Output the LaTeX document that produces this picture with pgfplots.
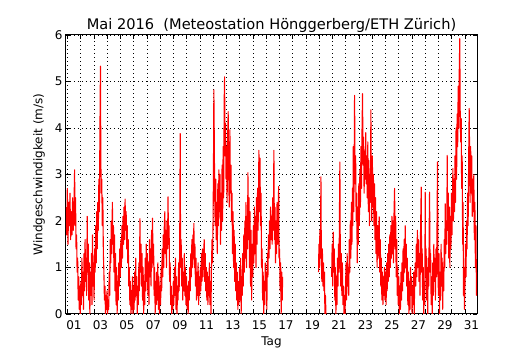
\documentclass[border=0pt]{standalone}
\usepackage{pgfplots}
\pgfplotsset{compat=1.18}
\usepackage{fontspec}
\setmainfont{DejaVu Sans}
\begin{document}
\begin{tikzpicture}
\path[use as bounding box] (0,0) rectangle (530pt,350pt);
\begin{axis}[
  at={(66pt,36pt)}, anchor=south west,
  scale only axis, width=411pt, height=279pt,
  xmin=-0.1, xmax=30.92, ymin=0, ymax=6,
  axis line style={line width=1pt},
  tick align=inside,
  major tick length=4pt,
  every tick/.style={black, line width=0.6pt},
  xtick={0,1,...,30},
  xticklabels={},
  ytick={0,1,...,6},
  grid=major,
  grid style={black, line width=0.5pt, dash pattern=on 1pt off 3pt},
  extra x ticks={0.5,2.5,...,30.5},
  extra x tick labels={01,03,05,07,09,11,13,15,17,19,21,23,25,27,29,31},
  extra x tick style={grid=none, major tick length=0pt},
  /pgf/number format/assume math mode=true,
  tick label style={font=\fontsize{12}{14}\selectfont},
  xticklabel style={yshift=-3pt},
  label style={font=\fontsize{12}{14}\selectfont},
  xlabel={Tag},
  xlabel style={yshift=-0.5pt},
  ylabel={Windgeschwindigkeit (m/s)},
  ylabel style={yshift=3pt},
  title={Mai 2016\ \ (Meteostation Hönggerberg/ETH Zürich)},
  title style={font=\fontsize{14.6}{17}\selectfont, anchor=base, yshift=-0.5pt},
  unbounded coords=jump,
]
\addplot[red, line width=1.1pt, line join=round] table {
x y
-0.10 2.3
-0.05 1.7
0.00 2.7
0.05 1.5
0.10 2.4
0.15 1.9
0.20 2.6
0.25 1.6
0.30 2.2
0.35 1.7
0.40 2.5
0.45 1.8
0.50 2.3
0.55 3.1
0.58 1.9
0.62 2.5
0.66 1.4
0.70 1.7
0.74 0.9
0.78 1.2
0.82 0.3
0.86 0.8
0.90 0.1
0.94 0.6
0.98 0.0
1.02 0.7
1.06 0.2
1.10 1.2
1.14 0.4
1.18 0.9
1.22 0.1
1.26 1.3
1.30 0.5
1.34 1.6
1.38 0.7
1.42 1.2
1.46 0.4
1.50 2.1
1.54 0.9
1.58 1.5
1.62 0.3
1.66 1.1
1.70 0.0
1.74 0.9
1.78 0.4
1.82 1.3
1.86 0.2
1.90 1.7
1.94 0.6
1.98 1.1
2.02 0.3
2.06 1.4
2.10 0.9
2.14 1.9
2.18 1.1
2.22 2.2
2.26 1.4
2.30 2.4
2.34 1.8
2.38 2.9
2.42 2.2
2.46 3.9
2.50 5.33
2.53 3.3
2.56 2.6
2.60 2.9
2.64 1.9
2.68 2.5
2.72 1.3
2.76 0.9
2.80 0.3
2.84 0.6
2.88 0.0
2.92 0.4
2.96 0.1
3.00 0.5
3.04 0.0
3.08 0.3
3.12 0.1
3.16 0.9
3.20 0.4
3.24 1.6
3.28 1.1
3.32 2.0
3.36 1.3
3.40 2.4
3.44 1.5
3.48 1.9
3.52 0.9
3.56 1.7
3.60 0.5
3.64 1.3
3.68 0.2
3.72 1.0
3.76 0.0
3.80 0.7
3.84 0.3
3.88 1.1
3.92 0.6
3.96 1.4
4.00 0.8
4.04 1.6
4.08 1.0
4.12 1.9
4.16 1.2
4.20 2.1
4.24 1.5
4.28 2.3
4.32 1.6
4.36 2.47
4.40 1.8
4.44 2.2
4.48 1.4
4.52 1.9
4.56 1.1
4.60 1.6
4.64 0.6
4.68 1.0
4.72 0.2
4.76 0.7
4.80 0.0
4.84 0.5
4.88 0.1
4.92 0.8
4.96 0.0
5.00 0.6
5.04 0.1
5.08 0.9
5.12 0.3
5.16 1.2
5.20 0.4
5.24 0.8
5.28 0.0
5.32 0.6
5.36 0.2
5.40 1.1
5.44 0.5
5.48 2.05
5.52 0.9
5.56 1.5
5.60 0.6
5.64 1.3
5.68 0.3
5.72 1.0
5.76 0.0
5.80 0.7
5.84 0.2
5.88 1.2
5.92 0.5
5.96 1.5
6.00 0.7
6.04 1.3
6.08 0.4
6.12 1.1
6.16 0.2
6.20 1.6
6.24 0.8
6.28 1.4
6.32 0.6
6.36 1.8
6.40 1.0
6.43 2.06
6.47 1.1
6.51 1.5
6.55 0.4
6.59 1.0
6.63 0.0
6.67 0.7
6.71 0.2
6.75 0.9
6.79 0.3
6.83 1.1
6.87 0.1
6.91 0.8
6.95 0.0
7.00 0.6
7.04 0.2
7.08 1.0
7.12 0.5
7.16 1.4
7.20 0.8
7.24 1.7
7.28 1.0
7.32 1.9
7.36 2.2
7.40 1.3
7.44 1.8
7.48 1.0
7.52 2.0
7.56 1.4
7.60 2.52
7.64 1.5
7.68 1.9
7.72 0.7
7.76 1.1
7.80 0.2
7.84 0.6
7.88 0.0
7.92 0.4
7.96 0.1
8.00 0.7
8.04 0.2
8.08 1.0
8.12 0.4
8.16 1.2
8.20 0.1
8.24 0.8
8.28 0.0
8.32 0.6
8.36 0.3
8.40 1.1
8.44 0.5
8.48 1.4
8.52 3.88
8.55 1.0
8.59 1.6
8.63 0.6
8.67 1.2
8.71 0.3
8.75 0.9
8.79 0.5
8.83 1.3
8.87 0.4
8.91 1.0
8.95 0.2
9.00 0.8
9.04 0.1
9.08 0.6
9.12 0.0
9.16 0.7
9.20 0.3
9.24 1.0
9.28 0.5
9.32 1.3
9.36 0.8
9.40 1.6
9.44 1.0
9.48 1.7
9.52 1.2
9.55 1.95
9.59 1.0
9.63 1.5
9.67 0.6
9.71 1.2
9.75 0.3
9.79 0.9
9.83 0.4
9.87 1.1
9.91 0.2
9.95 0.8
10.00 0.4
10.04 1.0
10.08 0.5
10.12 1.3
10.16 0.7
10.20 1.4
10.24 0.8
10.28 1.2
10.33 1.6
10.37 0.7
10.41 1.3
10.45 0.5
10.49 1.0
10.53 0.3
10.57 0.9
10.61 0.2
10.65 0.8
10.69 0.4
10.72 1.1
10.76 0.2
10.80 0.7
10.84 0.0
10.88 1.0
10.92 1.6
10.96 1.1
11.00 2.0
11.03 3.1
11.06 4.82
11.09 3.8
11.12 2.6
11.16 1.9
11.20 2.9
11.24 1.6
11.28 2.4
11.32 1.3
11.36 2.8
11.40 1.9
11.44 3.1
11.48 2.2
11.52 3.0
11.56 1.5
11.60 2.6
11.64 1.8
11.68 3.2
11.72 2.0
11.76 3.6
11.80 2.5
11.84 4.6
11.87 5.1
11.90 3.4
11.94 4.1
11.98 2.9
12.02 3.6
12.06 2.4
12.10 3.8
12.14 4.35
12.18 3.0
12.22 2.3
12.27 3.96
12.31 2.6
12.35 3.2
12.39 2.0
12.43 2.6
12.47 1.3
12.51 2.2
12.55 1.0
12.59 1.8
12.63 0.7
12.67 1.5
12.71 0.5
12.75 1.1
12.79 0.3
12.83 0.9
12.87 0.1
12.91 0.7
12.95 0.2
13.00 1.0
13.04 0.3
13.08 1.2
13.12 0.0
13.16 0.8
13.20 0.4
13.24 1.3
13.28 0.6
13.32 1.7
13.36 0.9
13.40 2.0
13.44 1.2
13.48 2.4
13.52 1.0
13.56 2.1
13.60 1.4
13.63 3.04
13.67 1.6
13.71 2.5
13.75 1.0
13.79 2.2
13.83 0.6
13.87 1.8
13.91 0.3
13.95 1.5
14.00 0.8
14.04 1.9
14.08 1.1
14.12 2.3
14.16 1.3
14.20 2.1
14.24 1.0
14.28 2.5
14.32 1.5
14.36 2.7
14.40 1.8
14.46 3.52
14.50 2.2
14.54 3.35
14.58 1.9
14.62 2.6
14.66 1.0
14.70 1.4
14.74 0.3
14.78 0.9
14.82 0.0
14.86 0.7
14.90 0.2
14.94 1.1
14.98 0.5
15.02 0.9
15.06 0.1
15.10 1.3
15.14 0.8
15.18 1.7
15.22 1.2
15.26 2.0
15.30 1.4
15.34 2.3
15.38 1.6
15.42 2.1
15.46 1.5
15.50 2.5
15.55 1.8
15.59 3.52
15.63 1.6
15.67 2.3
15.71 1.1
15.75 2.0
15.79 1.3
15.83 2.4
15.87 1.5
15.91 2.2
15.95 2.74
15.98 1.2
16.02 1.4
16.06 0.5
16.10 1.1
16.14 0.0
16.18 0.9
16.22 0.3
16.25 0.8
17.50 nan
18.96 0.9
18.99 1.5
19.03 1.0
19.06 1.8
19.10 1.2
19.14 2.95
19.17 1.3
19.21 0.7
19.25 1.4
19.29 0.6
19.33 1.1
19.37 0.5
19.41 0.9
19.44 0.0
19.48 0.4
19.52 0.0
19.70 nan
19.95 0.8
19.99 1.5
20.03 0.6
20.07 1.76
20.11 0.9
20.15 1.4
20.19 0.3
20.23 1.0
20.27 0.0
20.31 0.8
20.35 0.2
20.39 1.2
20.43 0.6
20.47 1.5
20.51 0.9
20.54 2.2
20.57 3.27
20.60 1.4
20.64 0.6
20.68 1.3
20.72 0.4
20.76 1.1
20.80 0.2
20.84 0.6
20.88 0.0
20.92 0.4
20.96 0.0
21.00 0.6
21.04 1.1
21.08 0.3
21.12 1.3
21.16 0.6
21.20 1.0
21.24 0.4
21.28 1.6
21.32 0.9
21.36 2.0
21.40 1.2
21.44 2.4
21.48 1.5
21.52 2.7
21.55 1.9
21.58 3.6
21.62 2.2
21.65 3.2
21.68 4.7
21.72 2.8
21.76 3.4
21.80 2.0
21.84 2.6
21.88 1.1
21.92 2.3
21.96 1.5
22.00 2.8
22.04 1.9
22.08 3.1
22.12 2.3
22.16 3.6
22.20 2.7
22.24 3.9
22.28 4.74
22.32 3.2
22.36 3.8
22.40 2.6
22.44 3.5
22.48 2.9
22.52 3.9
22.56 2.8
22.60 3.4
22.64 2.5
22.68 3.7
22.72 2.2
22.76 3.3
22.80 1.9
22.84 3.0
22.88 2.4
22.91 4.39
22.94 3.0
22.98 2.0
23.02 3.4
23.06 2.3
23.10 3.0
23.14 1.9
23.18 2.8
23.22 1.6
23.26 2.5
23.30 1.3
23.34 2.2
23.38 1.0
23.42 1.9
23.46 1.2
23.50 1.8
23.54 2.09
23.58 0.9
23.62 1.6
23.66 0.6
23.70 1.2
23.74 0.3
23.78 0.9
23.82 0.2
23.86 0.8
23.90 0.4
23.94 1.0
23.98 0.3
24.02 0.9
24.06 0.2
24.10 1.1
24.14 0.5
24.18 1.3
24.22 0.7
24.26 1.5
24.30 0.8
24.34 1.7
24.38 1.0
24.42 1.9
24.46 1.2
24.50 2.1
24.54 1.3
24.58 2.0
24.62 1.1
24.66 2.2
24.70 2.7
24.74 1.4
24.78 2.1
24.82 0.8
24.86 1.6
24.90 0.4
24.94 1.0
24.98 0.2
25.02 0.8
25.06 0.0
25.10 0.6
25.14 0.1
25.18 0.9
25.22 0.3
25.26 1.1
25.30 0.5
25.34 1.4
25.38 0.7
25.42 1.6
25.46 0.9
25.50 1.9
25.54 1.0
25.58 1.5
25.62 0.6
25.66 1.2
25.70 0.2
25.74 0.9
25.78 0.0
25.82 0.7
25.86 0.1
25.90 1.0
25.94 0.4
25.98 0.8
26.02 0.0
26.06 0.6
26.10 0.2
26.14 0.9
26.18 0.0
26.22 0.7
26.26 1.1
26.30 0.6
26.34 1.5
26.38 0.8
26.42 1.8
26.46 1.0
26.50 1.6
26.54 0.7
26.58 1.3
26.62 0.4
26.66 1.8
26.71 2.73
26.74 0.9
26.78 1.4
26.82 0.3
26.86 1.0
26.90 0.0
26.94 0.7
26.98 0.2
27.01 2.62
27.04 0.8
27.08 1.4
27.12 0.3
27.16 1.0
27.20 0.0
27.24 1.2
27.28 0.6
27.31 1.8
27.34 2.62
27.38 0.9
27.42 1.3
27.46 0.2
27.50 0.8
27.54 0.0
27.58 1.1
27.62 0.4
27.66 1.5
27.70 0.7
27.74 1.2
27.78 0.3
27.82 1.4
27.86 0.8
27.90 1.8
27.94 3.27
27.97 1.0
28.01 0.4
28.05 1.3
28.09 0.0
28.13 0.9
28.17 0.3
28.21 1.5
28.25 0.6
28.29 1.2
28.33 0.1
28.37 1.0
28.41 0.5
28.45 1.6
28.49 1.0
28.52 2.37
28.56 1.3
28.60 2.0
28.64 1.5
28.67 3.41
28.71 1.8
28.75 2.6
28.79 1.2
28.83 2.3
28.87 1.0
28.91 2.1
28.95 1.4
28.99 2.6
29.03 1.7
29.07 2.5
29.10 3.13
29.14 2.0
29.18 2.9
29.22 2.2
29.26 3.4
29.30 2.4
29.34 4.0
29.38 2.9
29.42 4.3
29.46 3.6
29.50 4.9
29.54 4.0
29.58 5.2
29.62 5.92
29.65 4.4
29.69 3.7
29.73 4.2
29.76 2.7
29.80 3.4
29.84 1.5
29.87 2.4
29.90 0.4
29.94 1.0
29.97 0.1
30.01 0.6
30.05 1.5
30.09 0.8
30.13 2.0
30.17 1.4
30.21 2.6
30.25 1.9
30.29 3.3
30.33 4.42
30.36 3.5
30.40 2.4
30.44 3.6
30.48 2.6
30.52 3.4
30.56 2.1
30.60 2.9
30.64 2.2
30.68 3.0
30.72 1.6
30.76 2.4
30.80 1.0
30.84 1.9
30.88 0.4
30.92 0.9
};
\end{axis}
\end{tikzpicture}
\end{document}
